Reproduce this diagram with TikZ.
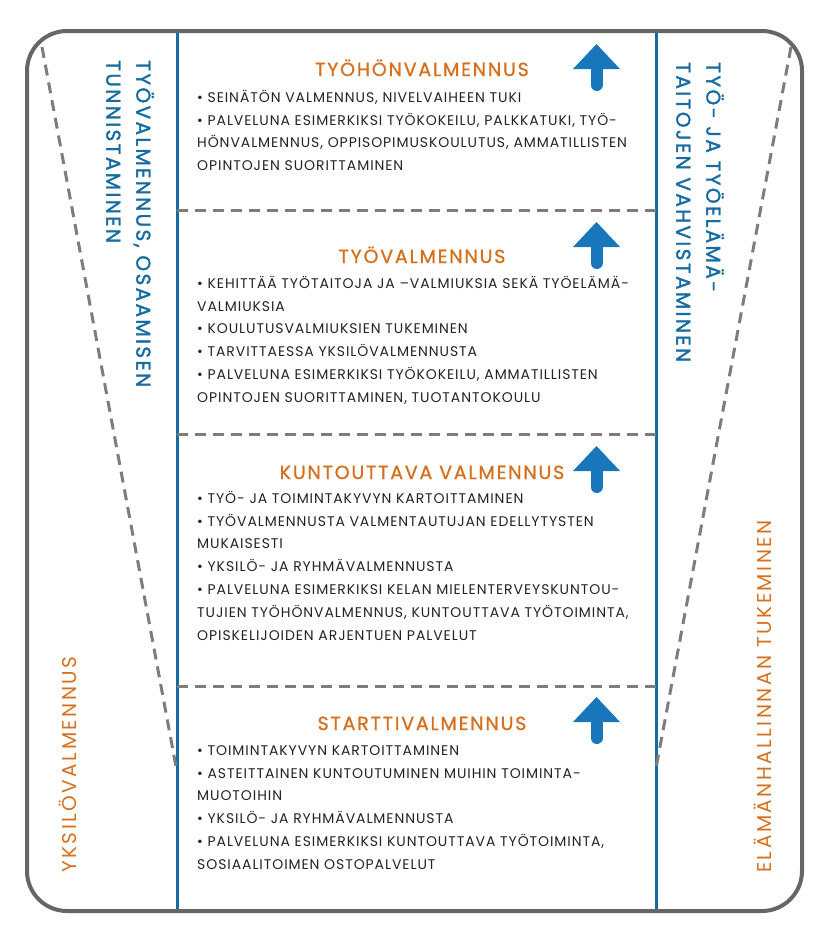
\documentclass[tikz,border=0pt]{standalone}
\usepackage{fontspec}
\usepackage{tikz}
\setmainfont{Poppins}
\newfontfamily\bodyfont[LetterSpace=6.6]{Poppins}
\newfontfamily\headfont[LetterSpace=9.5,FakeBold=1]{Poppins}
\newfontfamily\sidefont[LetterSpace=12,FakeBold=1.6]{Poppins}
\newfontfamily\sidelightfont[LetterSpace=12.5]{Poppins}
\definecolor{lineblue}{RGB}{22,108,162}
\definecolor{arrowblue}{RGB}{24,118,186}
\definecolor{headorange}{RGB}{214,112,30}
\definecolor{framegray}{RGB}{102,102,102}
\definecolor{dashgray}{RGB}{125,125,125}
\definecolor{bodyink}{RGB}{35,35,35}
\newcommand{\topstrut}{\rule{0pt}{15pt}}
\tikzset{
  frame/.style={draw=framegray, line width=4pt, rounded corners=40pt},
  lane/.style={draw=lineblue, line width=3pt},
  divider/.style={draw=dashgray, line width=3pt, dash pattern=on 11pt off 7pt},
  heading/.style={anchor=base, text=headorange, font=\headfont\fontsize{19}{22}\selectfont},
  bodytext/.style={anchor=north west, align=left, text=bodyink,
    font=\bodyfont\fontsize{14}{22.8}\selectfont},
  bluelabel/.style={anchor=west, rotate=-90, align=left, text=lineblue,
    font=\sidefont\fontsize{20}{30}\selectfont},
  orangelabel/.style={anchor=west, rotate=90, text=headorange,
    font=\sidelightfont\fontsize{20}{24}\selectfont}
}
\begin{document}
\begin{tikzpicture}[x=1pt, y=-1pt]
  \tikzstyle{every node}+=[inner sep=0pt]
  \useasboundingbox (0,0) rectangle (830,946);
  % lanes and frame
  \draw [lane] (177,31) -- (177,911);
  \draw [lane] (656,31) -- (656,911);
  \draw [frame] (27,31) rectangle (802,911);
  % funnel sides
  \coordinate (ltop) at (42,47);
  \coordinate (lbot) at (177,772);
  \coordinate (rtop) at (791,47);
  \coordinate (rbot) at (656,768);
  \draw [divider] (ltop) -- (lbot);
  \draw [divider] (rtop) -- (rbot);
  % level dividers
  \foreach \y in {210,434,686}
    \draw [divider] (177,\y) -- (656,\y);
  % up arrows
  \foreach \y in {44,222,446,697} {
    \fill [arrowblue] (596.5,\y) -- (620,\y+25) -- (573,\y+25) -- cycle;
    \draw [arrowblue, line width=12pt, line cap=round] (596.5,\y+20) -- (596.5,\y+41);
  }
  % headings
  \node [heading] (h1) at (422,76) {TYÖHÖNVALMENNUS};
  \node [heading] (h2) at (422,263) {TYÖVALMENNUS};
  \node [heading] (h3) at (422,479) {KUNTOUTTAVA VALMENNUS};
  \node [heading] (h4) at (422,730) {STARTTIVALMENNUS};
  % level contents
  \node [bodytext] (b1) at (197,87) {\topstrut• SEINÄTÖN VALMENNUS, NIVELVAIHEEN TUKI\\
    • PALVELUNA ESIMERKIKSI TYÖKOKEILU, PALKKATUKI, TYÖ-\\
    HÖNVALMENNUS, OPPISOPIMUSKOULUTUS, AMMATILLISTEN\\
    OPINTOJEN SUORITTAMINEN};
  \node [bodytext] (b2) at (197,273) {\topstrut• KEHITTÄÄ TYÖTAITOJA JA –VALMIUKSIA SEKÄ TYÖELÄMÄ-\\
    VALMIUKSIA\\
    • KOULUTUSVALMIUKSIEN TUKEMINEN\\
    • TARVITTAESSA YKSILÖVALMENNUSTA\\
    • PALVELUNA ESIMERKIKSI TYÖKOKEILU, AMMATILLISTEN\\
    OPINTOJEN SUORITTAMINEN, TUOTANTOKOULU};
  \node [bodytext] (b3) at (197,488) {\topstrut• TYÖ- JA TOIMINTAKYVYN KARTOITTAMINEN\\
    • TYÖVALMENNUSTA VALMENTAUTUJAN EDELLYTYSTEN\\
    MUKAISESTI\\
    • YKSILÖ- JA RYHMÄVALMENNUSTA\\
    • PALVELUNA ESIMERKIKSI KELAN MIELENTERVEYSKUNTOU-\\
    TUJIEN TYÖHÖNVALMENNUS, KUNTOUTTAVA TYÖTOIMINTA,\\
    OPISKELIJOIDEN ARJENTUEN PALVELUT};
  \node [bodytext] (b4) at (197,740) {\topstrut• TOIMINTAKYVYN KARTOITTAMINEN\\
    • ASTEITTAINEN KUNTOUTUMINEN MUIHIN TOIMINTA-\\
    MUOTOIHIN\\
    • YKSILÖ- JA RYHMÄVALMENNUSTA\\
    • PALVELUNA ESIMERKIKSI KUNTOUTTAVA TYÖTOIMINTA,\\
    SOSIAALITOIMEN OSTOPALVELUT};
  % side labels
  \node [bluelabel] (skills) at (130,60) {TYÖVALMENNUS, OSAAMISEN\\TUNNISTAMINEN};
  \node [bluelabel] (worklife) at (700,62) {TYÖ- JA TYÖELÄMÄ-\\TAITOJEN VAHVISTAMINEN};
  \node [orangelabel] (indiv) at (68,873) {YKSILÖVALMENNUS};
  \node [orangelabel] (lifemgmt) at (763,873) {ELÄMÄNHALLINNAN TUKEMINEN};
\end{tikzpicture}
\end{document}
